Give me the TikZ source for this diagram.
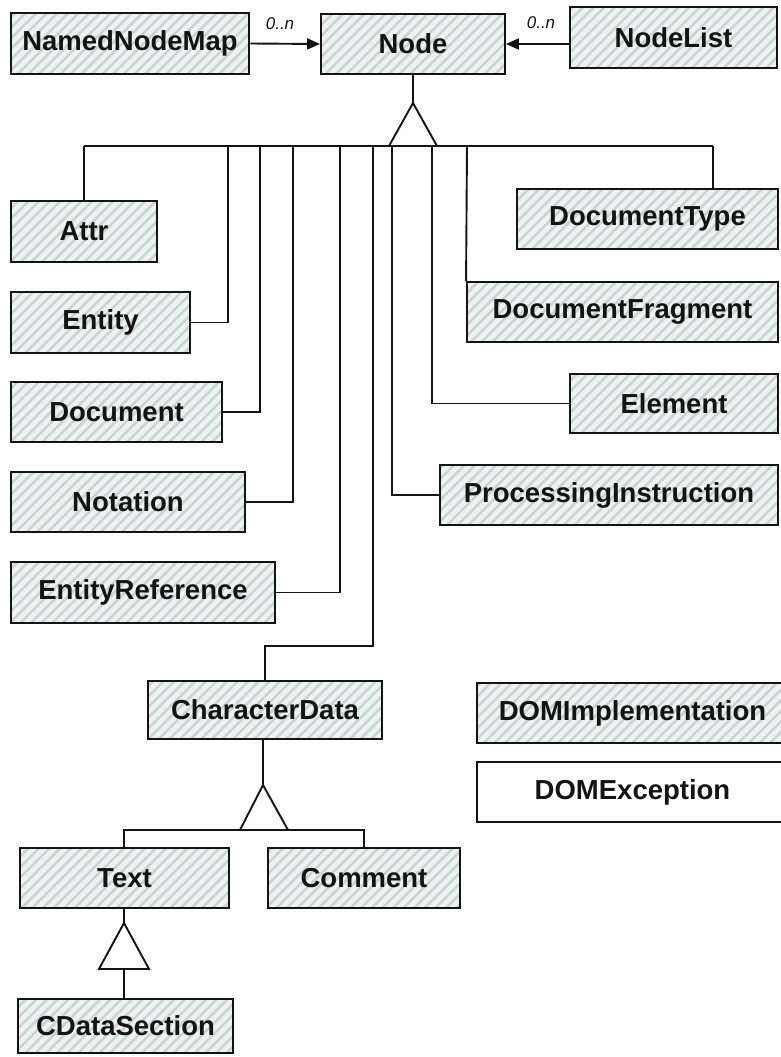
\documentclass[tikz,border=0pt]{standalone}
\usepackage{fontspec}
\setmainfont{Liberation Sans}
\usetikzlibrary{arrows.meta,patterns.meta}

\definecolor{hatchbg}{RGB}{236,244,241}
\definecolor{hatchline}{RGB}{204,211,211}
\definecolor{ink}{RGB}{20,20,20}

\tikzset{
  umlbase/.style={draw=ink, line width=1.9pt, inner sep=0pt, text=ink,
    font=\fontsize{27.5}{30}\selectfont\bfseries},
  umlclass/.style={umlbase, preaction={fill=hatchbg},
    pattern={Lines[angle=45,distance=7.5pt,line width=2.6pt]},
    pattern color=hatchline},
  umlplain/.style={umlbase, fill=white},
  link/.style={draw=ink, line width=1.9pt},
  assoc/.style={link, -{Triangle[length=13pt,width=11pt]}},
  mult/.style={text=ink, font=\fontsize{17}{19}\selectfont\itshape, inner sep=0pt},
}

% class box from its corners: name, x1, y1, x2, y2, style, label
\newcommand{\classbox}[7]{%
  \node[#6, minimum width={(#4-#2)*1pt}, minimum height={(#5-#3)*1pt}]
    (#1) at ({(#2+#4)/2},{(#3+#5)/2}) {#7};}

\begin{document}
\begin{tikzpicture}[x=1pt,y=-1pt]
\useasboundingbox[fill=white] (0,0) rectangle (780,1057);

% ---- classes ----
\classbox{namedNodeMap}{11}{13}{249}{74}{umlclass}{NamedNodeMap}
\classbox{node}{321}{14}{505}{74}{umlclass}{Node}
\classbox{nodeList}{570}{7}{777}{68}{umlclass}{NodeList}
\classbox{attr}{11}{201}{157}{262}{umlclass}{Attr}
\classbox{entity}{11}{292}{190}{353}{umlclass}{Entity}
\classbox{document}{11}{382}{222}{442}{umlclass}{Document}
\classbox{notation}{11}{472}{245}{532}{umlclass}{Notation}
\classbox{entityRef}{11}{562}{275}{623}{umlclass}{EntityReference}
\classbox{charData}{148}{681}{382}{739}{umlclass}{CharacterData}
\classbox{docType}{517}{189}{778}{249}{umlclass}{DocumentType}
\classbox{docFrag}{467}{282}{778}{342}{umlclass}{DocumentFragment}
\classbox{element}{570}{374}{778}{433}{umlclass}{Element}
\classbox{procInstr}{440}{465}{778}{525}{umlclass}{ProcessingInstruction}
\classbox{domImpl}{477}{683}{788}{743}{umlclass}{DOMImplementation}
\classbox{domExc}{477}{762}{788}{822}{umlplain}{DOMException}
\classbox{text}{20}{848}{229}{908}{umlclass}{Text}
\classbox{comment}{268}{848}{460}{908}{umlclass}{Comment}
\classbox{cdata}{18}{999}{233}{1053}{umlclass}{CDataSection}

% ---- associations ----
\draw[assoc] (namedNodeMap.east) -- (node.west);
\draw[assoc] (nodeList.west |- node.east) -- (node.east);
\node[mult] (multLeft) at (280,24) {0..n};
\node[mult] (multRight) at (541,23) {0..n};

% ---- generalisation of Node ----
\coordinate (nApex) at (413,103);
\coordinate (nBaseL) at (389,146);
\coordinate (nBaseR) at (437,146);
\draw[link] (node.south) -- (nApex);
\draw[link, line join=miter] (nApex) -- (nBaseL) -- (nBaseR) -- cycle;
\coordinate (barL) at (84,146);
\coordinate (barR) at (713,146);
\draw[link] (barL) -- (barR);

\coordinate (tEntity) at (228,146);
\coordinate (tDocument) at (260,146);
\coordinate (tNotation) at (293,146);
\coordinate (tEntityRef) at (340,146);
\coordinate (tCharData) at (373,146);
\coordinate (kCharData) at (373,646);
\coordinate (tProcInstr) at (392,146);
\coordinate (tElement) at (432,146);
\coordinate (tDocFrag) at (467,146);

\draw[link] (barL) -- (attr.north);
\draw[link] (tEntity) |- (entity.east);
\draw[link] (tDocument) |- (document.east);
\draw[link] (tNotation) |- (notation.east);
\draw[link] (tEntityRef) |- (entityRef.east);
\draw[link] (tCharData) -- (kCharData) -| (charData.north);
\draw[link] (tProcInstr) |- (procInstr.west);
\draw[link] (tElement) |- (element.west);
\draw[link] (tDocFrag) -- (docFrag.north west);
\draw[link] (barR) -- (barR |- docType.north);

% ---- generalisation of CharacterData ----
\coordinate (cApex) at (263,785);
\coordinate (cBaseL) at (240,830);
\coordinate (cBaseR) at (288,830);
\draw[link] (charData.south -| cApex) -- (cApex);
\draw[link, line join=miter] (cApex) -- (cBaseL) -- (cBaseR) -- cycle;
\coordinate (cBarL) at (124,830);
\coordinate (cBarR) at (364,830);
\draw[link] (text.north -| cBarL) -- (cBarL) -- (cBarR) -- (comment.north -| cBarR);

% ---- generalisation of Text ----
\coordinate (tApex) at (124,923);
\coordinate (tBaseL) at (99,969);
\coordinate (tBaseR) at (149,969);
\draw[link] (text.south -| tApex) -- (tApex);
\draw[link, line join=miter] (tApex) -- (tBaseL) -- (tBaseR) -- cycle;
\draw[link] (cdata.north -| tApex) -- (tApex |- tBaseL);
\end{tikzpicture}
\end{document}
